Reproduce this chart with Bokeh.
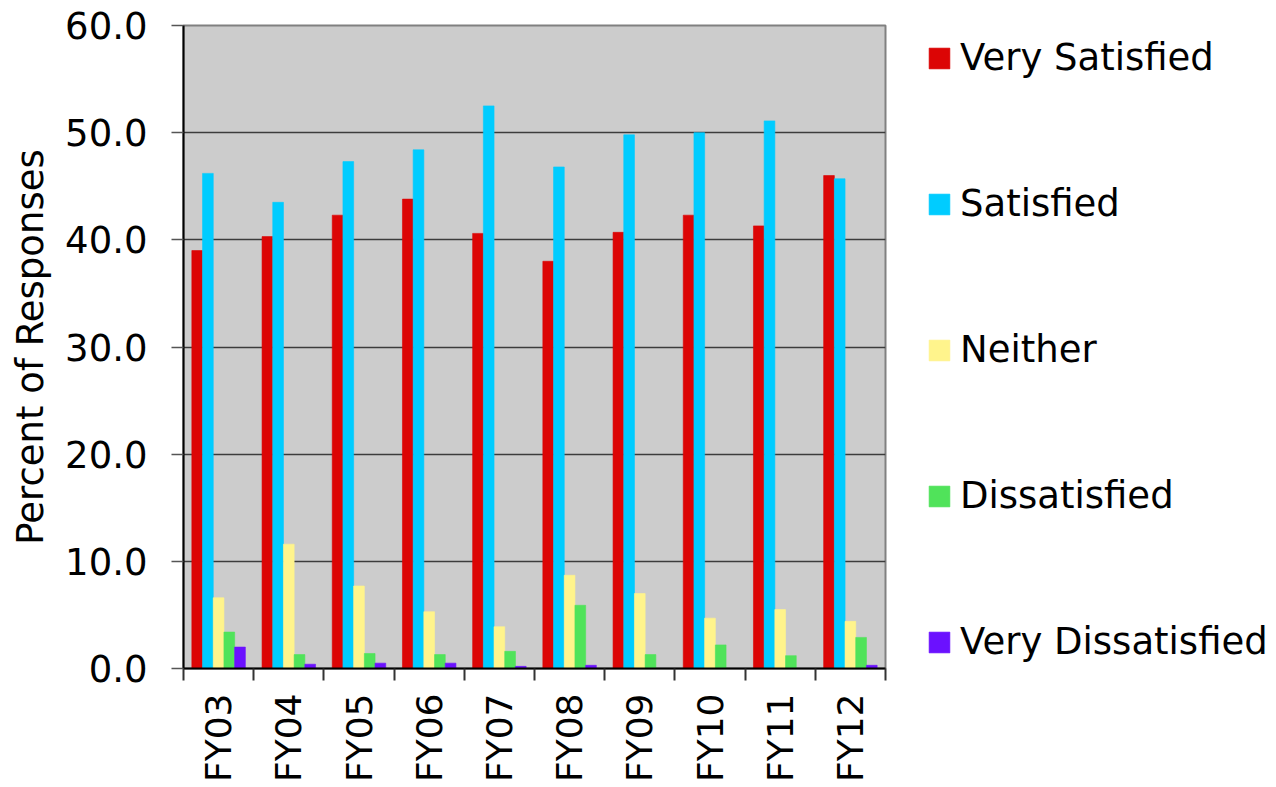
import math
import numpy as np
from bokeh.plotting import figure
from bokeh.models import (Range1d, FixedTicker, NumeralTickFormatter, Legend, LegendItem,
                          ColumnDataSource)
from bokeh.embed import file_html
from bokeh.resources import INLINE

years = ["FY03", "FY04", "FY05", "FY06", "FY07", "FY08", "FY09", "FY10", "FY11", "FY12"]
series_names = ["Very Satisfied", "Satisfied", "Neither", "Dissatisfied", "Very Dissatisfied"]
very_satisfied = [39.0, 40.3, 42.3, 43.8, 40.6, 38.0, 40.7, 42.3, 41.3, 46.0]
satisfied = [46.2, 43.5, 47.3, 48.4, 52.5, 46.8, 49.8, 50.0, 51.1, 45.7]
neither = [6.6, 11.6, 7.7, 5.3, 3.9, 8.7, 7.0, 4.7, 5.5, 4.4]
dissatisfied = [3.4, 1.3, 1.4, 1.3, 1.6, 5.9, 1.3, 2.2, 1.2, 2.9]
very_dissatisfied = [2.0, 0.4, 0.5, 0.5, 0.2, 0.3, 0.0, 0.0, 0.0, 0.3]
colors = ["#DC0505", "#00CCFF", "#FFF48C", "#50E35A", "#6B11FF"]
y_ticks = [0, 10, 20, 30, 40, 50, 60]

series = [very_satisfied, satisfied, neither, dissatisfied, very_dissatisfied]
FONT = "DejaVu Sans"
FS = "37px"

p = figure(frame_width=702, frame_height=643, output_backend="svg", toolbar_location=None,
           x_range=Range1d(0, len(years)), y_range=Range1d(0, 60),
           min_border_left=183, min_border_right=0, min_border_top=25, min_border_bottom=119)
p.background_fill_color = "#CCCCCC"
p.border_fill_color = "white"
p.outline_line_color = "#808080"
p.outline_line_width = 2

bw = 0.1524
centers = np.arange(len(years)) + 0.5
renderers = []
for i, (name, vals, col) in enumerate(zip(series_names, series, colors)):
    src = ColumnDataSource(dict(x=centers + (i - 2) * bw, top=vals))
    r = p.vbar(x="x", top="top", width=bw, bottom=0, source=src,
               fill_color=col, line_color=col, line_alpha=0.6, line_width=1)
    renderers.append(r)

# y axis
yax = p.yaxis[0]
yax.ticker = FixedTicker(ticks=y_ticks)
yax.formatter = NumeralTickFormatter(format="0.0")
yax.major_label_text_font = FONT
yax.major_label_text_font_size = FS
yax.major_label_text_color = "black"
yax.major_tick_out = 12
yax.major_tick_in = 0
yax.minor_tick_out = 0
yax.minor_tick_in = 0
yax.major_label_standoff = 24
yax.axis_line_color = "black"
yax.axis_line_width = 2
yax.major_tick_line_color = "#555555"
yax.major_tick_line_width = 1.5
yax.axis_label = "Percent of Responses"
yax.axis_label_text_font = FONT
yax.axis_label_text_font_size = FS
yax.axis_label_text_font_style = "normal"
yax.axis_label_text_color = "black"
yax.axis_label_standoff = 10

# x axis
xax = p.xaxis[0]
xax.ticker = FixedTicker(ticks=list(centers), minor_ticks=list(range(len(years) + 1)))
xax.major_label_overrides = {float(c): y for c, y in zip(centers, years)}
xax.major_label_orientation = math.pi / 2
xax.major_label_text_font = FONT
xax.major_label_text_font_size = "36px"
xax.major_label_text_color = "black"
xax.major_tick_out = 0
xax.major_tick_in = 0
xax.minor_tick_out = 12
xax.minor_tick_in = 0
xax.minor_tick_line_color = "#333333"
xax.minor_tick_line_width = 2
xax.major_label_standoff = 13
xax.axis_line_color = "black"
xax.axis_line_width = 2

p.xgrid.grid_line_color = None
p.ygrid.ticker = FixedTicker(ticks=y_ticks[1:-1])
p.ygrid.grid_line_color = "#3c3c3c"
p.ygrid.grid_line_width = 1.7

legend = Legend(items=[LegendItem(label=n, renderers=[r]) for n, r in zip(series_names, renderers)],
                location=(41, 5), orientation="vertical")
legend.label_text_font = FONT
legend.label_text_font_size = FS
legend.label_text_color = "black"
legend.glyph_width = 26
legend.glyph_height = 26
legend.label_height = 40
legend.label_standoff = 8
legend.spacing = 103
legend.padding = 0
legend.margin = 22
legend.border_line_color = None
legend.background_fill_alpha = 0
p.add_layout(legend, "right")

open("out.html", "w").write(file_html(p, INLINE))
